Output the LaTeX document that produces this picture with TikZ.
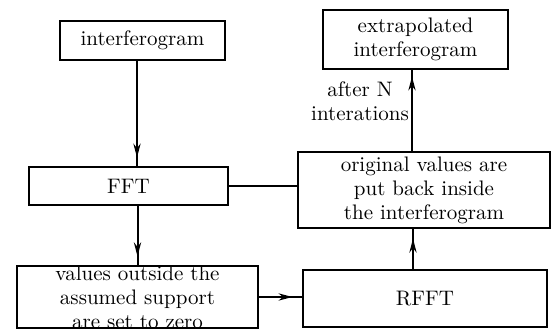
\documentclass[tikz,border=0pt]{standalone}
\usetikzlibrary{arrows.meta,decorations.markings}
\begin{document}
\begin{tikzpicture}[x=0.5pt,y=-0.5pt,
  txt/.style={font=\fontsize{10.5}{12}\selectfont},
  box/.style={draw,line width=1pt,inner sep=0pt,align=center,txt},
  conn/.style={line width=1pt},
  arrowat/.style={line width=1pt,postaction={decorate},
    decoration={markings,mark=at position #1 with {\arrow{Stealth[length=7pt,width=3.6pt]}}}}
]
\useasboundingbox (0,0) rectangle (558,331);
\node[box,minimum width=82.5pt,minimum height=19.5pt] (interf) at (142.5,40.5) {interferogram};
\node[box,minimum width=99.5pt,minimum height=19pt] (fft) at (128.5,186) {FFT};
\node[box,minimum width=120.5pt,minimum height=28pt] (vals) at (137.5,297) {values outside the\\assumed support\\are set to zero};
\node[box,minimum width=92.5pt,minimum height=29.5pt] (extrap) at (415.5,39.5) {extrapolated\\interferogram};
\node[box,minimum width=126pt,minimum height=38pt] (orig) at (424,190) {original values are\\put back inside\\the interferogram};
\node[box,minimum width=122pt,minimum height=28.5pt] (rfft) at (425,298.5) {RFFT};
\node[align=center,inner sep=0pt,txt] (lab) at (360,101) {after N\\interations};

\draw[arrowat=0.92] ([xshift=-2.75pt]interf.south) -- ([xshift=-2.75pt]interf.south |- fft.north);
\draw[arrowat=0.86] (fft.south -| vals.north) -- (vals.north);
\draw[conn] (fft.east) -- (fft.east -| orig.west);
\draw[arrowat=0.78] (vals.east) -- (vals.east -| rfft.west);
\draw[arrowat=0.76] ([xshift=-6pt]rfft.north) -- ([xshift=-6pt]rfft.north |- orig.south);
\draw[arrowat=0.92] ([xshift=-1.75pt]extrap.south |- orig.north) -- ([xshift=-1.75pt]extrap.south);
\end{tikzpicture}
\end{document}
